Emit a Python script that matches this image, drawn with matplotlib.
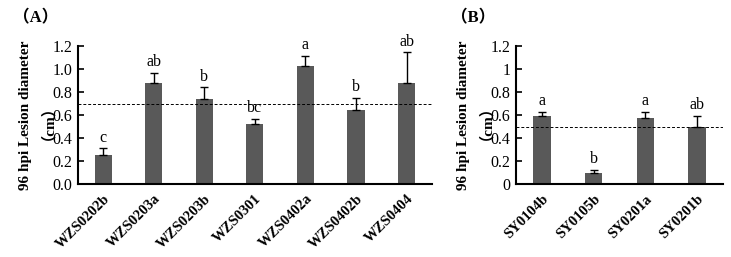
import matplotlib
matplotlib.use('Agg')
from matplotlib import pyplot as plt

# Panel A data
strains_a = ['WZS0202b', 'WZS0203a', 'WZS0203b', 'WZS0301', 'WZS0402a', 'WZS0402b', 'WZS0404']
lesion_a = [0.25, 0.875, 0.74, 0.52, 1.03, 0.64, 0.875]
err_a = [0.06, 0.09, 0.10, 0.045, 0.085, 0.11, 0.27]
letters_a = ['c', 'ab', 'b', 'bc', 'a', 'b', 'ab']
ref_a = 0.70

# Panel B data
strains_b = ['SY0104b', 'SY0105b', 'SY0201a', 'SY0201b']
lesion_b = [0.59, 0.10, 0.575, 0.50]
err_b = [0.04, 0.02, 0.05, 0.095]
letters_b = ['a', 'b', 'a', 'ab']
ref_b = 0.50

yticks = [0.0, 0.2, 0.4, 0.6, 0.8, 1.0, 1.2]
yticklabels_a = ['0.0', '0.2', '0.4', '0.6', '0.8', '1.0', '1.2']
yticklabels_b = ['0', '0.2', '0.4', '0.6', '0.8', '1', '1.2']

serif = ['Liberation Serif', 'Noto Sans CJK SC']
plt.rcParams['font.family'] = serif

fig = plt.figure(figsize=(7.31, 2.57), dpi=100)
ax_a = fig.add_axes([0.1067, 0.284, 0.484, 0.537])
ax_b = fig.add_axes([0.706, 0.284, 0.283, 0.537])


def draw_panel(ax, names, vals, errs, letters, ref, ticklabels):
    x = range(len(names))
    ax.bar(x, vals, width=0.34, color='#595959', zorder=2)
    ax.errorbar(x, vals, yerr=[[0] * len(vals), errs], fmt='none', ecolor='black',
                elinewidth=1.0, capsize=3, capthick=1.0, zorder=3)
    for i in x:
        ax.annotate(letters[i], (i, vals[i] + errs[i]), xytext=(0, 2), textcoords='offset points',
                    ha='center', va='bottom', fontsize=11.5)
    ax.axhline(ref, color='black', linestyle=(0, (3, 2)), linewidth=0.7, zorder=4)
    ax.set_xlim(-0.5, len(names) - 0.5)
    ax.set_ylim(0, 1.2)
    ax.set_yticks(yticks)
    ax.set_yticklabels(ticklabels, fontsize=11.5)
    ax.set_xticks(list(x))
    ax.set_xticklabels(names, rotation=45, ha='right', rotation_mode='anchor',
                       fontsize=10.5, fontweight='bold')
    ax.tick_params(axis='x', length=0, pad=6)
    ax.tick_params(axis='y', direction='in', length=4, width=1.2, pad=4)
    for s in ['top', 'right']:
        ax.spines[s].set_visible(False)
    for s in ['left', 'bottom']:
        ax.spines[s].set_linewidth(1.5)
    ax.set_ylabel('96 hpi Lesion diameter\n（cm）', fontsize=11, fontweight='bold', linespacing=1.0)


draw_panel(ax_a, strains_a, lesion_a, err_a, letters_a, ref_a, yticklabels_a)
draw_panel(ax_b, strains_b, lesion_b, err_b, letters_b, ref_b, yticklabels_b)

fig.text(0.018, 0.93, '（A）', fontsize=12, fontweight='bold', va='center')
fig.text(0.617, 0.93, '（B）', fontsize=12, fontweight='bold', va='center')

fig.savefig('out.png', dpi=100)
